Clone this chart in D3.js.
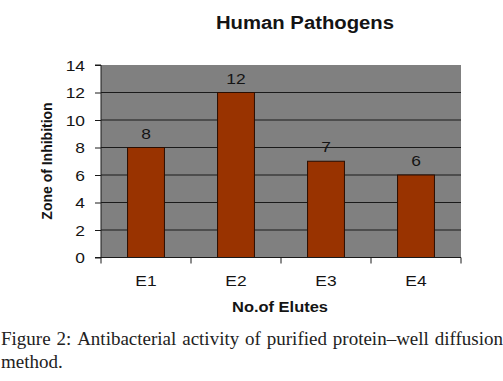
<!DOCTYPE html>
<html>
<head>
<meta charset="utf-8">
<script src="https://cdn.jsdelivr.net/npm/d3@7"></script>
<style>
  body { margin: 0; background: white; }
  text { font-family: "Liberation Sans", Arial, sans-serif; }
</style>
</head>
<body>
<svg id="chart"></svg>
<script>
// chart values
const elutes = ["E1", "E2", "E3", "E4"];
const zones = [8, 12, 7, 6];
const yTicks = [0, 2, 4, 6, 8, 10, 12, 14];
const chartTitle = "Human Pathogens";
const xTitle = "No.of Elutes";
const yTitle = "Zone of Inhibition";
const captionLines = ["Figure 2: Antibacterial activity of purified protein\u2013well diffusion", "method."];

var size = { width: 503, height: 381 };
var plot = { left: 101, right: 461, top: 65, bottom: 257.5 };
var stretch = 1.16; // the source picture is a bit wide

var svg = d3.select("#chart")
    .attr("width", size.width)
    .attr("height", size.height);

// horizontal text, a little widened like the original
function wideText(parent, px, py, str, fs, anchor, bold) {
    return parent.append("text")
        .attr("transform", `translate(${px},${py}) scale(${stretch},1)`)
        .attr("text-anchor", anchor || "middle")
        .attr("font-size", fs)
        .attr("font-weight", bold ? "bold" : "normal")
        .attr("fill", "#141414")
        .text(str);
}

var x = d3.scaleBand()
    .domain(elutes)
    .range([plot.left, plot.right])
    .paddingInner(0.59)
    .paddingOuter(0.295);

var y = d3.scaleLinear()
    .domain([0, 14])
    .range([plot.bottom, plot.top]);

// gray plot area
svg.append("rect")
    .attr("x", plot.left)
    .attr("y", plot.top)
    .attr("width", plot.right - plot.left)
    .attr("height", plot.bottom - plot.top)
    .attr("fill", "#808080");

// grid lines
svg.append("g")
    .selectAll("line")
    .data(yTicks.filter(d => d > 0 && d < 14))
    .enter()
    .append("line")
    .attr("x1", plot.left)
    .attr("x2", plot.right)
    .attr("y1", d => y(d))
    .attr("y2", d => y(d))
    .attr("stroke", "#1a1a1a")
    .attr("stroke-width", 1.2);

// bars
svg.append("g")
    .selectAll("rect")
    .data(zones)
    .enter()
    .append("rect")
    .attr("x", (d, i) => x(elutes[i]))
    .attr("y", d => y(d))
    .attr("width", x.bandwidth())
    .attr("height", d => y(0) - y(d))
    .attr("fill", "#993300")
    .attr("stroke", "#2a0d00")
    .attr("stroke-width", 1);

// value labels
var vals = svg.append("g");
zones.forEach((d, i) => {
    wideText(vals, x(elutes[i]) + x.bandwidth() / 2, y(d) - 9, d, 15);
});

// y axis
var yAxis = svg.append("g")
    .attr("transform", `translate(${plot.left},0)`)
    .call(d3.axisLeft(y).tickValues(yTicks).tickSize(6).tickFormat(""));
yAxis.select(".domain").attr("stroke", "#1a1a1a").attr("d", `M-6,${plot.top}H0V${plot.bottom}H-6`);
yAxis.selectAll(".tick line").attr("stroke", "#1a1a1a");
var yLabels = svg.append("g");
yTicks.forEach(t => {
    wideText(yLabels, plot.left - 16, y(t) + 5.5, t, 15, "end");
});

// x axis with ticks between categories
var xAxisG = svg.append("g")
    .attr("transform", `translate(0,${plot.bottom})`);
xAxisG.append("line")
    .attr("x1", plot.left).attr("x2", plot.right)
    .attr("stroke", "#1a1a1a");
var step = x.step();
xAxisG.selectAll(".sep")
    .data(d3.range(elutes.length + 1))
    .enter()
    .append("line")
    .attr("x1", i => plot.left + i * step)
    .attr("x2", i => plot.left + i * step)
    .attr("y1", 0).attr("y2", 6)
    .attr("stroke", "#1a1a1a");
elutes.forEach(e => {
    wideText(xAxisG, x(e) + x.bandwidth() / 2, 28.5, e, 15);
});

// titles
wideText(svg, 305, 29, chartTitle, 17.5, "middle", true);
wideText(svg, 280, 311.5, xTitle, 14.2, "middle", true);

svg.append("text")
    .attr("transform", "translate(52,161) rotate(-90) scale(1,1.1)")
    .attr("text-anchor", "middle")
    .attr("font-size", 14)
    .attr("font-weight", "bold")
    .attr("fill", "#141414")
    .text(yTitle);

// caption, first line justified across the width
var cap = svg.append("g")
    .attr("font-size", 19)
    .attr("fill", "#222");

var words = captionLines[0].split(" ");
var widths = words.map(w => {
    var t = cap.append("text").style("font-family", "Liberation Serif, serif").text(w);
    var wd = t.node().getComputedTextLength();
    t.remove();
    return wd;
});
var gap = (size.width - 1 - d3.sum(widths)) / (words.length - 1);
var cx = 1;
words.forEach((w, i) => {
    cap.append("text")
        .style("font-family", "Liberation Serif, serif")
        .attr("x", cx).attr("y", 345)
        .text(w);
    cx += widths[i] + gap;
});
cap.append("text")
    .style("font-family", "Liberation Serif, serif")
    .attr("x", 1).attr("y", 368)
    .text(captionLines[1]);
</script>
</body>
</html>
